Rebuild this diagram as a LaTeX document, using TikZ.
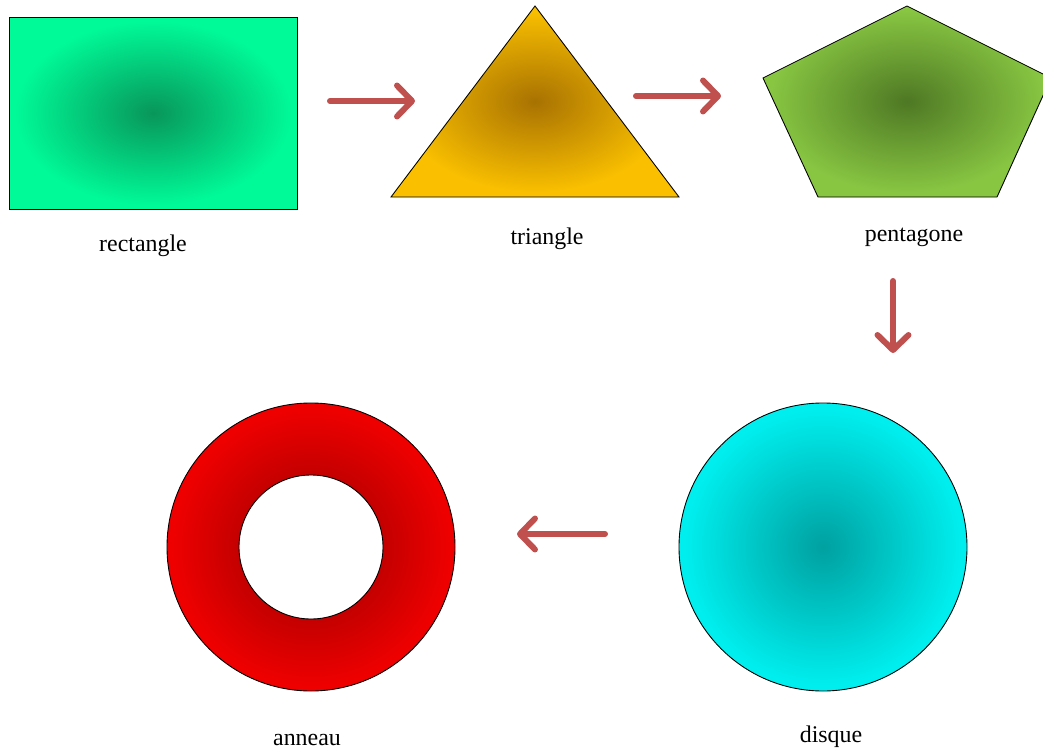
\documentclass[tikz,border=0pt]{standalone}
\usepackage{fontspec}
\setmainfont{Liberation Serif}
\usetikzlibrary{arrows.meta}
\definecolor{arrowred}{RGB}{192,80,77}
\definecolor{shadeIn}{RGB}{0,0,0}
\definecolor{shadeOut}{RGB}{255,255,255}
\pgfdeclareradialshading[shadeIn,shadeOut]{softradial}{\pgfpoint{0bp}{0bp}}{%
    color(0bp)=(shadeIn); color(24bp)=(shadeOut); color(50bp)=(shadeOut)}
\tikzset{
    shape shade/.style 2 args={
        /utils/exec={\colorlet{shadeIn}{#1}\colorlet{shadeOut}{#2}},
        shading=softradial,
        draw=black,
        line width=0.5pt
    },
    flow arrow/.style={
        draw=arrowred,
        line width=3.4pt,
        line cap=round,
        -{Straight Barb[round,length=3mm,width=6.2mm]}
    },
    shape label/.style={
        font=\fontsize{13.6}{16}\selectfont
    }
}

\begin{document}
\begin{tikzpicture}[x=0.2mm, y=-0.2mm]
    \useasboundingbox (0,0) rectangle (1043,750);
    % shapes
    \coordinate (R1) at (9,17);
    \coordinate (R2) at (297,209);
    \coordinate (T1) at (535,6);
    \coordinate (T2) at (679,197);
    \coordinate (T3) at (391,197);
    \coordinate (P1) at (907,6);
    \coordinate (P2) at (1051,78);
    \coordinate (P3) at (997,197);
    \coordinate (P4) at (818,197);
    \coordinate (P5) at (763,78);
    \coordinate (D) at (823,547);
    \coordinate (A) at (311,547);

    \shadedraw[shape shade={rgb,255:red,8;green,150;blue,90}{rgb,255:red,0;green,250;blue,152}]
        (R1) rectangle (R2);
    \shadedraw[shape shade={rgb,255:red,168;green,114;blue,2}{rgb,255:red,250;green,192;blue,0}]
        (T1) -- (T2) -- (T3) -- cycle;
    \shadedraw[shape shade={rgb,255:red,78;green,120;blue,36}{rgb,255:red,136;green,198;blue,66}]
        (P1) -- (P2) -- (P3) -- (P4) -- (P5) -- cycle;
    \shadedraw[shape shade={rgb,255:red,0;green,160;blue,160}{rgb,255:red,0;green,238;blue,238}]
        (D) circle[radius=144];
    \shadedraw[shape shade={rgb,255:red,150;green,0;blue,0}{rgb,255:red,238;green,0;blue,0}, even odd rule]
        (A) circle[radius=144] (A) circle[radius=72];

    % labels
    \node[shape label] (lrect) at (143,246) {rectangle};
    \node[shape label] (ltri) at (547,239) {triangle};
    \node[shape label] (lpent) at (914,237) {pentagone};
    \node[shape label] (ldisk) at (831,737) {disque};
    \node[shape label] (lring) at (307,740) {anneau};

    % arrows
    \coordinate (a1s) at (330,101);
    \coordinate (a1e) at (415,101);
    \coordinate (a2s) at (636,96);
    \coordinate (a2e) at (721,96);
    \coordinate (a3s) at (893,281);
    \coordinate (a3e) at (893,353);
    \coordinate (a4s) at (605,534);
    \coordinate (a4e) at (517,534);
    \draw[flow arrow] (a1s) -- (a1e);
    \draw[flow arrow] (a2s) -- (a2e);
    \draw[flow arrow] (a3s) -- (a3e);
    \draw[flow arrow] (a4s) -- (a4e);
\end{tikzpicture}
\end{document}
